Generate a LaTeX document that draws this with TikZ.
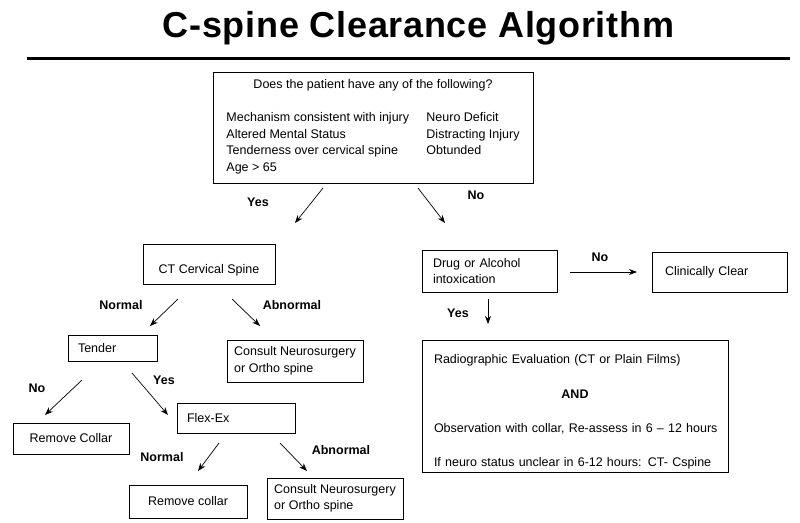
\documentclass[tikz,border=0pt]{standalone}
\usepackage{fontspec}
\setmainfont{Liberation Sans}
\newfontfamily\titlefont[LetterSpace=2.0]{Liberation Sans}
\usetikzlibrary{arrows.meta}
\tikzset{box/.style={
    draw=black, line width=0.8pt, rectangle, inner sep=0pt},
  tag/.style={font=\fontsize{12.5}{16.5}\selectfont\bfseries},
  flow/.style={draw=black, line width=0.7pt,
    -{Stealth[length=8pt,width=6pt]}}}

\begin{document}
\begin{tikzpicture}[x=1pt,y=-1pt,
  every node/.style={font=\fontsize{12.5}{16.5}\selectfont}]
\useasboundingbox (0,0) rectangle (800,522);

% title and rule
\coordinate (ruleL) at (27,58);
\coordinate (ruleR) at (790,58);
\node[anchor=base, font=\titlefont\fontsize{36}{40}\selectfont\bfseries] (title) at (418.5,37) {C-spine Clearance Algorithm};
\path[draw=black, line width=3pt] (ruleL) -- (ruleR);

% boxes
\node[box, minimum width=320pt, minimum height=111pt, align=center] (ask) at (373,127.5)
  {Does the patient have any of the following?\\[17pt]
   \begin{tabular}[t]{@{}p{200pt}@{}l@{}}
   Mechanism consistent with injury & Neuro Deficit\\
   Altered Mental Status & Distracting Injury\\
   Tenderness over cervical spine & Obtunded\\
   Age > 65 &
   \end{tabular}};
\node[box, minimum width=132pt, minimum height=40pt, text height=19pt, text depth=0pt] (ct) at (209,264) {CT Cervical Spine};
\node[box, text width=113pt, inner xsep=11pt, minimum height=42pt, align=left] (drug) at (489.5,271) {Drug or Alcohol\\intoxication};
\node[box, text width=109pt, inner xsep=13pt, minimum height=40pt, align=left] (clear) at (719.5,272) {Clinically Clear};
\node[box, text width=282pt, inner xsep=12pt, minimum height=132pt, align=left] (radio) at (575,406)
  {\rule{0pt}{21pt}Radiographic Evaluation (CT or Plain Films)\\[18pt]
   \makebox[282pt]{\textbf{AND}}\\[18pt]
   \mbox{Observation with collar, Re-assess in 6 – 12 hours}\\[17pt]
   \mbox{If neuro status unclear in 6-12 hours: CT- Cspine}};
\node[box, text width=69pt, inner xsep=10pt, minimum height=26pt, align=left] (tender) at (112.5,348) {Tender};
\node[box, minimum width=136pt, minimum height=42pt, align=left] (consA) at (295,361) {Consult Neurosurgery\\or Ortho spine};
\node[box, minimum width=116pt, minimum height=31pt] (removeA) at (71,438.5) {Remove Collar};
\node[box, text width=98pt, inner xsep=10pt, minimum height=30pt, align=left] (flex) at (236,418) {Flex-Ex};
\node[box, minimum width=118pt, minimum height=33pt] (removeB) at (188,501.5) {Remove collar};
\node[box, minimum width=136pt, minimum height=41pt, align=left] (consB) at (335,498.5) {Consult Neurosurgery\\or Ortho spine};

% branch labels
\node[tag] (yesA) at (258,202) {Yes};
\node[tag] (noA) at (476,195) {No};
\node[tag] (normalA) at (121,305) {Normal};
\node[tag] (abnormalA) at (292,305) {Abnormal};
\node[tag] (noB) at (37,388) {No};
\node[tag] (yesB) at (164,380) {Yes};
\node[tag] (normalB) at (162,457) {Normal};
\node[tag] (abnormalB) at (341,450) {Abnormal};
\node[tag] (noC) at (600,257) {No};
\node[tag] (yesC) at (458,313) {Yes};

% arrow ends
\coordinate (yesAs) at (323,188);
\coordinate (yesAe) at (295,223);
\coordinate (noAs) at (418,188);
\coordinate (noAe) at (445,223);
\coordinate (normalAs) at (178,299);
\coordinate (normalAe) at (150,326);
\coordinate (abnormalAs) at (232,299);
\coordinate (abnormalAe) at (260,326);
\coordinate (noBs) at (82,380);
\coordinate (noBe) at (45,415);
\coordinate (yesBs) at (132,373);
\coordinate (yesBe) at (168,415);
\coordinate (normalBs) at (219,443);
\coordinate (normalBe) at (198,471);
\coordinate (abnormalBs) at (280,443);
\coordinate (abnormalBe) at (307,471);
\coordinate (noCs) at (570,272);
\coordinate (noCe) at (637,272);
\coordinate (yesCs) at (488,299);
\coordinate (yesCe) at (488,324);

\path[flow] (yesAs) -- (yesAe);
\path[flow] (noAs) -- (noAe);
\path[flow] (normalAs) -- (normalAe);
\path[flow] (abnormalAs) -- (abnormalAe);
\path[flow] (noBs) -- (noBe);
\path[flow] (yesBs) -- (yesBe);
\path[flow] (normalBs) -- (normalBe);
\path[flow] (abnormalBs) -- (abnormalBe);
\path[flow] (noCs) -- (noCe);
\path[flow] (yesCs) -- (yesCe);

\end{tikzpicture}
\end{document}
